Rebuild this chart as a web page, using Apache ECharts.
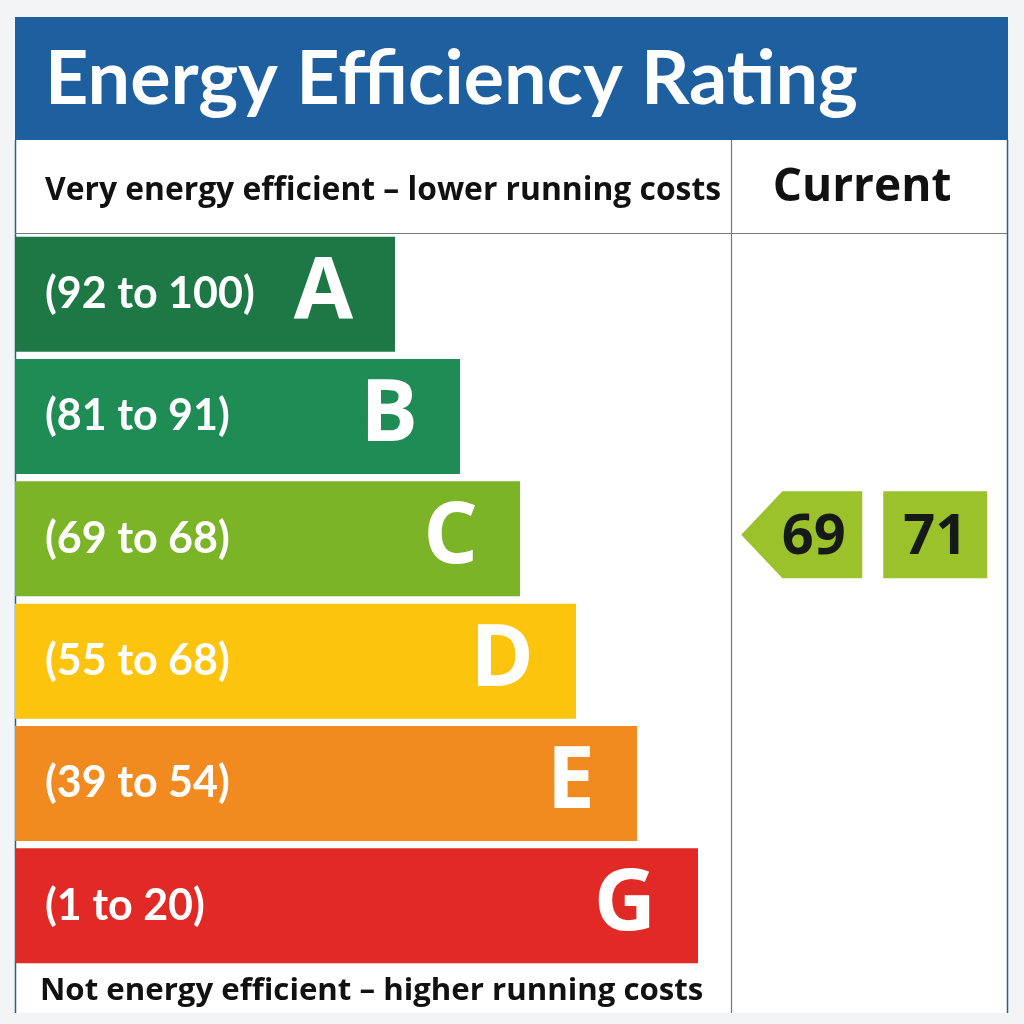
<!DOCTYPE html>
<html>
<head>
<meta charset="utf-8">
<title>Energy Efficiency Rating</title>
<script src="https://cdn.jsdelivr.net/npm/echarts@6/dist/echarts.min.js"></script>
<style>
html,body{margin:0;padding:0;background:#f3f4f5}
#main{width:1024px;height:1024px}
</style>
</head>
<body>
<div id="main"></div>
<script>
// rating bands, top to bottom
var bands = ['A', 'B', 'C', 'D', 'E', 'G'];
var ranges = ['(92 to 100)', '(81 to 91)', '(69 to 68)', '(55 to 68)', '(39 to 54)', '(1 to 20)'];
// relative bar lengths
var barLength = [38, 44.5, 50.5, 56.1, 62.2, 68.3];
var bandColors = ['#1d7845', '#1f8c56', '#7cb428', '#fcc40c', '#f28b1f', '#e12a26'];
// current column
var ratingCols = ['Current', 'Potential'];
var ratingValues = [69, 71];
var ratingBands = ['C', 'C'];

var font = 'Lato, "Open Sans", sans-serif';
var font2 = '"Open Sans", Lato, sans-serif';
var arrowPath = 'path://M0,50L34,0L100,0L100,100L34,100Z';

(function(){
  var myChart = echarts.init(document.getElementById('main'));

  var barData = barLength.map(function(v, i){
    return { value: v, itemStyle: { color: bandColors[i] } };
  });

  var ratingData = ratingValues.map(function(v, i){
    return {
      value: [ratingCols[i], ratingBands[i]],
      symbol: i === 0 ? arrowPath : 'rect',
      symbolSize: i === 0 ? [121, 87] : [104, 87],
      label: { offset: i === 0 ? [12, 3] : [0, 3] }
    };
  });

  var option = {
    backgroundColor: '#f3f4f5',
    animation: false,
    graphic: [
      // white panel
      { type: 'rect', shape: { x: 15, y: 17, width: 993, height: 996 }, style: { fill: '#ffffff' }, z: -10 },
      // title bar
      { type: 'rect', shape: { x: 15, y: 17, width: 993, height: 123 }, style: { fill: '#1e5f9f' }, z: -9 },
      { type: 'text', x: 45, y: 80, style: { text: 'Energy Efficiency Rating', fill: '#ffffff', font: 'bold 75.5px ' + font, textVerticalAlign: 'middle' } },
      // frame lines
      { type: 'line', shape: { x1: 15.5, y1: 140, x2: 15.5, y2: 1013 }, style: { stroke: '#2b5c94', lineWidth: 1.5 } },
      { type: 'line', shape: { x1: 1007.5, y1: 140, x2: 1007.5, y2: 1013 }, style: { stroke: '#2b5c94', lineWidth: 1.5 } },
      { type: 'line', shape: { x1: 731.5, y1: 140, x2: 731.5, y2: 1013 }, style: { stroke: '#777777', lineWidth: 1.2 } },
      { type: 'line', shape: { x1: 15, y1: 233.5, x2: 1007, y2: 233.5 }, style: { stroke: '#777777', lineWidth: 1.2 } },
      // header and footer texts
      { type: 'text', x: 45, y: 191, style: { text: 'Very energy efficient \u2013 lower running costs', fill: '#111111', font: 'bold 31.8px ' + font2, textVerticalAlign: 'middle' } },
      { type: 'text', x: 862, y: 188, style: { text: 'Current', fill: '#111111', font: 'bold 46px ' + font2, textAlign: 'center', textVerticalAlign: 'middle' } },
      { type: 'text', x: 40, y: 991, style: { text: 'Not energy efficient \u2013 higher running costs', fill: '#111111', font: 'bold 31.2px ' + font2, textVerticalAlign: 'middle' } }
    ],
    grid: [
      { left: 15, top: 233, width: 716, height: 734 },
      { left: 735, top: 233, width: 267, height: 734 }
    ],
    xAxis: [
      { type: 'value', gridIndex: 0, min: 0, max: 71.6, show: false },
      { type: 'category', gridIndex: 1, data: ratingCols, show: false }
    ],
    yAxis: [
      { type: 'category', gridIndex: 0, data: bands, inverse: true, show: false },
      { type: 'category', gridIndex: 1, data: bands, inverse: true, show: false }
    ],
    series: [
      {
        name: 'range',
        type: 'bar',
        xAxisIndex: 0,
        yAxisIndex: 0,
        barWidth: 115,
        data: barData,
        label: {
          show: true,
          position: 'insideLeft',
          distance: 30,
          color: '#ffffff',
          fontFamily: font,
          fontWeight: 'bold',
          fontSize: 43,
          formatter: function(p){ return ranges[p.dataIndex]; }
        }
      },
      {
        name: 'band',
        type: 'bar',
        xAxisIndex: 0,
        yAxisIndex: 0,
        barWidth: 115,
        barGap: '-100%',
        data: barLength,
        itemStyle: { color: 'rgba(0,0,0,0)' },
        label: {
          show: true,
          position: 'insideRight',
          distance: 42,
          color: '#ffffff',
          fontFamily: font2,
          fontWeight: 'bold',
          fontSize: 86,
          formatter: function(p){ return bands[p.dataIndex]; }
        }
      },
      {
        name: 'rating',
        type: 'scatter',
        xAxisIndex: 1,
        yAxisIndex: 1,
        symbolOffset: [0, -4],
        symbolKeepAspect: false,
        itemStyle: { color: '#9cc22b', opacity: 1 },
        data: ratingData,
        label: {
          show: true,
          position: 'inside',
          color: '#161a16',
          fontFamily: font2,
          fontWeight: 'bold',
          fontSize: 56,
          formatter: function(p){ return ratingValues[p.dataIndex]; }
        }
      }
    ]
  };
  myChart.setOption(option);
  window.addEventListener('resize', function(){
    myChart.resize();
  });
})();
</script>
</body>
</html>
